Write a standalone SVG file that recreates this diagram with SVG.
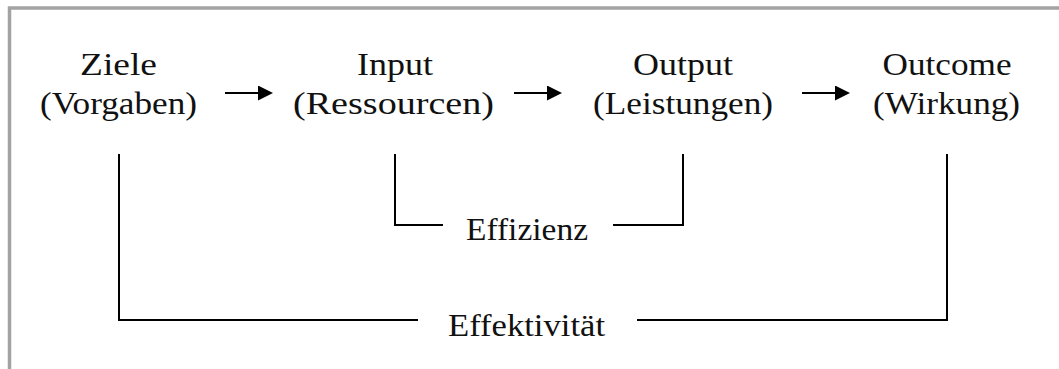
<svg xmlns="http://www.w3.org/2000/svg" width="1059" height="369" viewBox="0 0 1059 369">
  <style>
    .lbl { font-family: "Liberation Serif", "Times New Roman", serif; font-size: 32px; fill: #111; text-anchor: middle; }
    .frame { fill: none; stroke: #a3a3a3; stroke-width: 3.5; }
    .link { fill: none; stroke: #000; stroke-width: 2; }
    .flow { fill: none; stroke: #000; stroke-width: 2.2; }
  </style>
  <defs>
    <marker id="head" markerUnits="userSpaceOnUse" markerWidth="16" markerHeight="16" refX="0" refY="7.5" orient="auto">
      <polygon points="0,0 15,7.5 0,15" fill="#000"/>
    </marker>
  </defs>

  <rect width="1059" height="369" fill="#fff"/>
  <!-- frame: top and left edges only -->
  <path class="frame" d="M9.5,369 V8 H1059"/>

  <g id="ziele">
    <text class="lbl" x="118.5" y="75" textLength="77" lengthAdjust="spacingAndGlyphs">Ziele</text>
    <text class="lbl" x="118.5" y="114" textLength="157" lengthAdjust="spacingAndGlyphs">(Vorgaben)</text>
  </g>
  <g id="input">
    <text class="lbl" x="395" y="75" textLength="76" lengthAdjust="spacingAndGlyphs">Input</text>
    <text class="lbl" x="393.5" y="114" textLength="201" lengthAdjust="spacingAndGlyphs">(Ressourcen)</text>
  </g>
  <g id="output">
    <text class="lbl" x="683" y="75" textLength="100" lengthAdjust="spacingAndGlyphs">Output</text>
    <text class="lbl" x="683" y="114" textLength="180" lengthAdjust="spacingAndGlyphs">(Leistungen)</text>
  </g>
  <g id="outcome">
    <text class="lbl" x="947" y="75" textLength="129" lengthAdjust="spacingAndGlyphs">Outcome</text>
    <text class="lbl" x="946.5" y="114" textLength="147" lengthAdjust="spacingAndGlyphs">(Wirkung)</text>
  </g>
  <g id="effizienz">
    <text class="lbl" x="527" y="240" textLength="122" lengthAdjust="spacingAndGlyphs">Effizienz</text>
  </g>
  <g id="effektivitaet">
    <text class="lbl" x="526.5" y="336" textLength="157" lengthAdjust="spacingAndGlyphs">Effektivität</text>
  </g>

  <g id="connectors">
    <!-- flow arrows -->
    <line class="flow" x1="225" y1="93" x2="258" y2="93" marker-end="url(#head)"/>
    <line class="flow" x1="514" y1="93" x2="547" y2="93" marker-end="url(#head)"/>
    <line class="flow" x1="802" y1="93" x2="835" y2="93" marker-end="url(#head)"/>
    <!-- efficiency bracket: input to output -->
    <path class="link" d="M395,154 V225 H443"/>
    <path class="link" d="M613,225 H683 V154"/>
    <!-- effectiveness bracket: goals to outcome -->
    <path class="link" d="M119,154 V320 H418"/>
    <path class="link" d="M637,320 H947 V154"/>
  </g>
</svg>
